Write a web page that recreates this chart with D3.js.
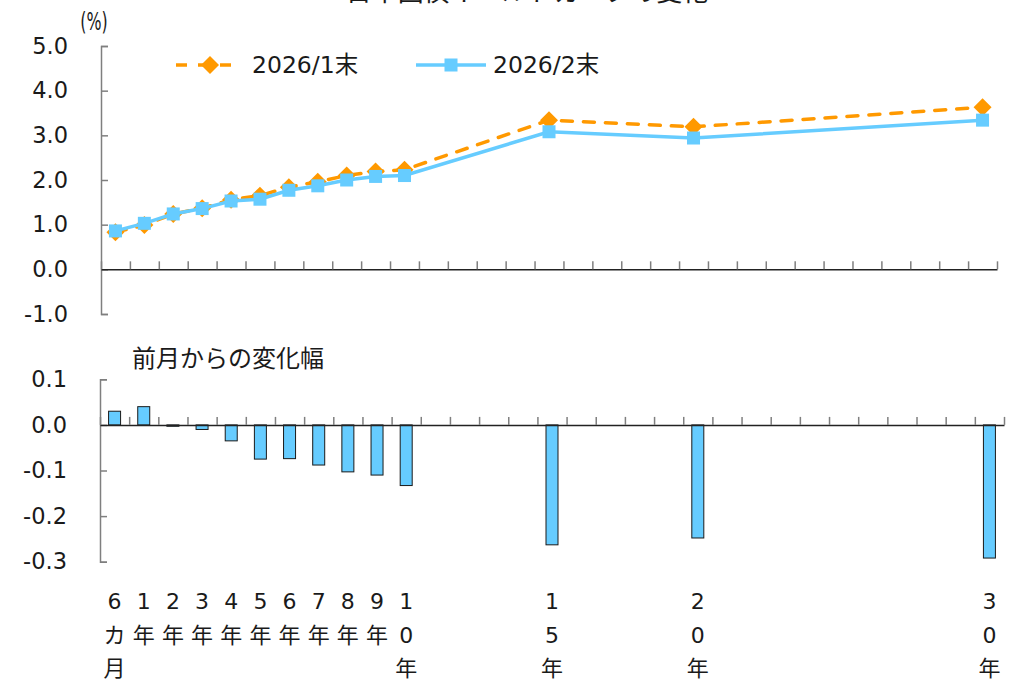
<!DOCTYPE html>
<html lang="ja">
<head>
<meta charset="utf-8">
<script src="https://cdn.jsdelivr.net/npm/d3@7"></script>
<style>
  html, body { margin: 0; padding: 0; background: #fff; }
  svg { display: block; }
  text { font-family: "DejaVu Sans", "Noto Sans CJK JP", sans-serif; fill: #1a1a1a; }
</style>
</head>
<body>
<svg id="chart" width="1014" height="681"></svg>
<script>
// Maturities (years) and their axis labels
const tenorYears = [0.5, 1, 2, 3, 4, 5, 6, 7, 8, 9, 10, 15, 20, 30];
const tenorLabels = ["6カ月", "1年", "2年", "3年", "4年", "5年", "6年", "7年", "8年", "9年", "10年", "15年", "20年", "30年"];

// Yields (%) at month end
const yieldJan = [0.83, 0.99, 1.24, 1.37, 1.56, 1.65, 1.84, 1.96, 2.10, 2.19, 2.23, 3.34, 3.19, 3.63];
const yieldFeb = [0.86, 1.03, 1.24, 1.36, 1.53, 1.57, 1.77, 1.87, 2.00, 2.08, 2.10, 3.08, 2.94, 3.34];

// Change from previous month (%pt)
const monthChange = [0.03, 0.04, -0.003, -0.01, -0.035, -0.075, -0.074, -0.088, -0.103, -0.11, -0.133, -0.263, -0.248, -0.292];

// Tick values
const topTicks = [-1, 0, 1, 2, 3, 4, 5];
const bottomTicks = [-0.3, -0.2, -0.1, 0, 0.1];

const seriesNames = ["2026/1末", "2026/2末"];
const titleText = "日本国債イールドカーブの変化";
const subTitle = "前月からの変化幅";

const ORANGE = "#FF9900";
const BLUE = "#66CCFF";
const AXIS_GREY = "#7f7f7f";

const svg = d3.select("#chart");

// one slot per year, 0..30; 6-month sits in the first slot
const slotOf = y => Math.floor(y);
const slotEdges = d3.range(-0.5, 31, 1);
const xTop = d3.scaleLinear().domain([-0.5, 30.5]).range([101, 997]);
const xBot = d3.scaleLinear().domain([-0.5, 30.5]).range([100, 1004]);

const yTop = d3.scaleLinear().domain([-1, 5]).range([314, 46]);
const yBot = d3.scaleLinear().domain([-0.3, 0.1]).range([561.7, 379.3]);

// ---- title (sits mostly above the canvas edge)
svg.append("text")
  .attr("x", 527).attr("y", 1)
  .attr("text-anchor", "middle")
  .style("font-family", "'Noto Sans CJK JP', sans-serif")
  .style("font-size", "26px")
  .text(titleText);

// ---- unit label
svg.append("text")
  .attr("transform", "translate(94,30) scale(0.66,1)")
  .attr("text-anchor", "middle")
  .style("font-size", "24px")
  .text("(%)");

// ---- y axes
function yAxis(scale, ticks, fmt) {
  return d3.axisLeft(scale)
    .tickValues(ticks)
    .tickSizeInner(-7)
    .tickSizeOuter(-7)
    .tickPadding(33)
    .tickFormat(fmt);
}
function styleAxis(g) {
  g.select(".domain").attr("stroke", AXIS_GREY).attr("stroke-width", 1.5);
  g.selectAll(".tick line").attr("stroke", AXIS_GREY).attr("stroke-width", 1.5);
  g.selectAll(".tick text")
    .style("font-family", "'DejaVu Sans', sans-serif")
    .style("font-size", "22.5px")
    .attr("fill", "#1a1a1a");
}

const gYTop = svg.append("g")
  .attr("transform", "translate(101,0)")
  .call(yAxis(yTop, topTicks, d => d.toFixed(1)));
styleAxis(gYTop);

const gYBot = svg.append("g")
  .attr("transform", "translate(100,0)")
  .call(yAxis(yBot, bottomTicks, d => d.toFixed(1)));
styleAxis(gYBot);

// ---- zero lines with slot ticks
function zeroAxis(xs, yPos) {
  const g = svg.append("g")
    .attr("transform", `translate(0,${yPos})`)
    .call(d3.axisTop(xs).tickValues(slotEdges).tickSize(8).tickSizeOuter(0).tickFormat(""));
  g.select(".domain").attr("stroke", "#222").attr("stroke-width", 1.5);
  g.selectAll(".tick line").attr("stroke", AXIS_GREY).attr("stroke-width", 1.5);
  return g;
}
zeroAxis(xTop, yTop(0));

// ---- yield curves
const pts = vals => vals.map((v, i) => ({ x: xTop(slotOf(tenorYears[i])), y: yTop(v) }));
const line = d3.line().x(d => d.x).y(d => d.y);

const janPts = pts(yieldJan);
const febPts = pts(yieldFeb);

svg.append("path")
  .attr("d", line(janPts))
  .attr("fill", "none")
  .attr("stroke", ORANGE)
  .attr("stroke-width", 3.5)
  .attr("stroke-dasharray", "11,11")
  .attr("stroke-linecap", "round");

const diamond = d3.symbol().type(d3.symbolSquare).size(162);
svg.append("g").selectAll("path")
  .data(janPts)
  .join("path")
  .attr("d", diamond)
  .attr("transform", d => `translate(${d.x},${d.y}) rotate(45)`)
  .attr("fill", ORANGE);

svg.append("path")
  .attr("d", line(febPts))
  .attr("fill", "none")
  .attr("stroke", BLUE)
  .attr("stroke-width", 3.5);

svg.append("g").selectAll("rect")
  .data(febPts)
  .join("rect")
  .attr("x", d => d.x - 6.5).attr("y", d => d.y - 6.5)
  .attr("width", 13).attr("height", 13)
  .attr("fill", BLUE);

// ---- legend
const lg = svg.append("g");
lg.append("line")
  .attr("x1", 175).attr("x2", 240).attr("y1", 65).attr("y2", 65)
  .attr("stroke", ORANGE).attr("stroke-width", 3.5)
  .attr("stroke-dasharray", "11,11").attr("stroke-dashoffset", -1);
lg.append("path")
  .attr("d", diamond)
  .attr("transform", "translate(210,65) rotate(45)")
  .attr("fill", ORANGE);
lg.append("text")
  .attr("x", 252).attr("y", 65).attr("dy", "0.36em")
  .style("font-size", "23.5px")
  .text(seriesNames[0]);

lg.append("line")
  .attr("x1", 416).attr("x2", 486).attr("y1", 65).attr("y2", 65)
  .attr("stroke", BLUE).attr("stroke-width", 3.5);
lg.append("rect")
  .attr("x", 451 - 6.5).attr("y", 65 - 6.5).attr("width", 13).attr("height", 13)
  .attr("fill", BLUE);
lg.append("text")
  .attr("x", 493).attr("y", 65).attr("dy", "0.36em")
  .style("font-size", "23.5px")
  .text(seriesNames[1]);

// ---- change panel
svg.append("text")
  .attr("x", 132).attr("y", 358).attr("dy", "0.36em")
  .style("font-family", "'Noto Sans CJK JP', sans-serif")
  .style("font-size", "24px")
  .text(subTitle);

svg.append("g").selectAll("rect")
  .data(monthChange)
  .join("rect")
  .attr("x", (d, i) => xBot(slotOf(tenorYears[i])) - 6)
  .attr("y", d => Math.min(yBot(d), yBot(0)))
  .attr("width", 12)
  .attr("height", d => Math.max(Math.abs(yBot(d) - yBot(0)), 1))
  .attr("fill", BLUE)
  .attr("stroke", "#1a1a1a")
  .attr("stroke-width", 1);

zeroAxis(xBot, yBot(0));

// ---- vertical category labels, one character per row
const lab = svg.append("g");
tenorLabels.forEach((label, i) => {
  const cx = xBot(slotOf(tenorYears[i]));
  Array.from(label).forEach((ch, r) => {
    lab.append("text")
      .attr("x", cx)
      .attr("y", 601 + r * 33.6)
      .attr("dy", "0.36em")
      .attr("text-anchor", "middle")
      .style("font-size", "22px")
      .text(ch);
  });
});
</script>
</body>
</html>
